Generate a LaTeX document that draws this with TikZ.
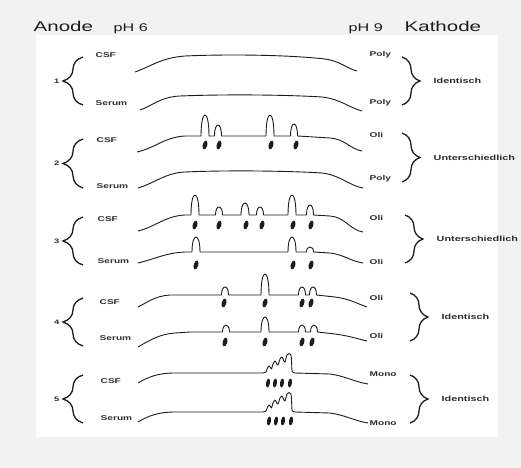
\documentclass[tikz,border=0pt]{standalone}
\usepackage{fontspec}
\setmainfont{Liberation Sans}[FakeStretch=1.45]
\usetikzlibrary{decorations.pathreplacing}
\definecolor{pagegrey}{RGB}{242,242,242}
\definecolor{ink}{RGB}{28,28,28}
\definecolor{labelgrey}{RGB}{45,45,45}
% one bump per band on a baseline: centre/top/half width
\newcommand{\bumps}[2]{\foreach \px/\py/\pw in {#2}{ -- ({\px-\pw},#1) .. controls ({\px-\pw},{#1-4*(#1-\py)/3}) and ({\px+\pw},{#1-4*(#1-\py)/3}) .. ({\px+\pw},#1)}}
% monoclonal cluster
\newcommand{\fingers}[1]{-- plot[smooth,tension=0.5] coordinates {(263,#1) (266,#1-1) (267.5,#1-5) (269,#1-7) (270.5,#1-5.5) (271.5,#1-4) (273,#1-9) (275,#1-12) (276.5,#1-9.5) (278,#1-8) (280,#1-14) (282,#1-16) (283.5,#1-13) (285,#1-11) (287,#1-18) (289,#1-19.5) (291,#1-18) (291.6,#1-10) (292.2,#1-1.5) (295,#1)}}
\tikzset{
  head/.style={font=\fontsize{14.2}{16}\selectfont},
  ph/.style={font=\fontsize{11.2}{13}\selectfont},
  tag/.style={font=\bfseries\fontsize{7}{9}\selectfont, text=labelgrey, anchor=west},
  verdict/.style={font=\bfseries\fontsize{7.5}{10}\selectfont, text=labelgrey, anchor=west},
  num/.style={font=\bfseries\fontsize{6.5}{8}\selectfont, text=labelgrey, anchor=east},
  trace/.style={draw=ink, line width=0.9bp, line join=round},
  band/.style={fill=ink},
  lbrace/.style={draw=ink, line width=1.3bp, decorate,
    decoration={brace, amplitude=20bp, aspect=0.5}},
  rbrace/.style={draw=ink, line width=1.3bp, decorate,
    decoration={brace, amplitude=18bp, aspect=0.5}}
}
\begin{document}
\begin{tikzpicture}[x=1bp,y=-1bp,every node/.style={text=ink,inner sep=0.5pt}]
  \useasboundingbox (0,0) rectangle (521,468);
  \fill[pagegrey] (0,0) rectangle (521,468);
  \fill[white] (36,35) rectangle (498,437);

  \node[head,anchor=base west] (anode) at (33,32) {Anode};
  \node[ph,anchor=base west] (phlow) at (113,32) {pH 6};
  \node[ph,anchor=base west] (phhigh) at (348,32) {pH 9};
  \node[head,anchor=base west] (kathode) at (404,32) {Kathode};

  % left side: number, brace, sample names
  \foreach \n/\top/\bot/\yc/\ys/\xl in {1/57/105/55/103/95,2/139/188/140/186/96,3/217/265/219/261/97,4/298/346/302/338/99,5/375/423/381/418/100}{
    \draw[lbrace] (83,\bot) -- (83,\top);
    \node[num] (num\n) at (60,{(\top+\bot)/2}) {\n};
    \node[tag] (csf\n) at (\xl,\yc) {CSF};
    \node[tag] (serum\n) at (\xl,\ys) {Serum};
  }

  % right side: pattern names, brace, verdict
  \foreach \n/\top/\bot/\la/\ya/\lb/\yb/\v/\xr in {1/57/105/Poly/55/Poly/103/Identisch/402,2/133/182/Oli/135/Poly/179/Unterschiedlich/402,3/215/263/Oli/218/Oli/262/Unterschiedlich/405,4/293/341/Oli/298/Oli/336/Identisch/410,5/375/423/Mono/374/Mono/423/Identisch/410}{
    \draw[rbrace] (\xr,\top) -- (\xr,\bot);
    \node[tag] (typa\n) at (369,\ya) {\la};
    \node[tag] (typb\n) at (369,\yb) {\lb};
    \node[verdict] (verdict\n) at ({\xr+31},{(\top+\bot)/2}) {\v};
  }

  % 1
  \draw[trace] (135,72) .. controls (150,67) and (160,58) .. (185,56) .. controls (230,54) and (290,55) .. (325,59) .. controls (340,61) and (348,69) .. (357,71);
  \draw[trace] (140,110) .. controls (152,106) and (160,97) .. (180,96) .. controls (230,94) and (290,95) .. (322,97) .. controls (340,99) and (350,108) .. (362,111);
  % 2
  \draw[trace] (137,152) .. controls (155,148) and (165,137) .. (185,136) \bumps{136}{205/115/4,218/125/3.5,270/115/4,294/124/3.5} -- (330,138) .. controls (345,139) and (350,149) .. (362,151);
  \draw[trace] (138,188) .. controls (155,183) and (165,173) .. (185,172) .. controls (230,170) and (290,171) .. (322,173) .. controls (340,175) and (350,186) .. (363,188);
  % 3
  \draw[trace] (138,231) .. controls (155,227) and (165,216) .. (185,215) \bumps{215}{195/195/4,219/207/3.5,245/203/4,260/207/3.5,292/195/4,310/205/3.5} -- (330,216) .. controls (345,217) and (350,230) .. (363,232);
  \draw[trace] (138,263) .. controls (155,259) and (165,253) .. (185,252) \bumps{252}{196/237/4,292/237/4,310/247/3.5} -- (330,253) .. controls (345,255) and (350,261) .. (363,263);
  % 4
  \draw[trace] (138,307) .. controls (148,302) and (155,296) .. (170,295) \bumps{295}{225/287/3.5,265/274/4,302/287/3.5,313/287/3.5} -- (335,297) .. controls (350,299) and (358,304) .. (367,307);
  \draw[trace] (138,347) .. controls (150,340) and (160,334) .. (175,333) -- (190,332) \bumps{332}{226/325/3.5,265/317/4,302/325/3.5,314/325/3.5} -- (335,334) .. controls (350,336) and (358,339) .. (367,341);
  % 5
  \foreach \b in {373,412}{
    \draw[trace] (138,\b+10) .. controls (148,\b+4) and (158,\b) .. (175,\b) -- (263,\b) \fingers{\b} -- (330,\b+1) .. controls (345,\b+3) and (355,\b+9) .. (368,\b+11);
  }

  % bands
  \foreach \bx/\by in {205/145,219/145,271/145,296/145,
      195/225,219/225,246/225,262/225,293/225,311/225,
      196/265,293/265,311/265,
      224/303,265/303,302/303,311/303,
      225/342,265/342,302/342,312/342}{
    \fill[band,rotate around={-16:(\bx,\by)}] (\bx,\by) ellipse [x radius=2.3, y radius=4.6];
  }
  \foreach \bx/\by in {268/383,275/383,282/383,290/383,269/421,276/421,283/421,291/421}{
    \fill[band,rotate around={-10:(\bx,\by)}] (\bx,\by) ellipse [x radius=2, y radius=4.5];
  }
\end{tikzpicture}
\end{document}
